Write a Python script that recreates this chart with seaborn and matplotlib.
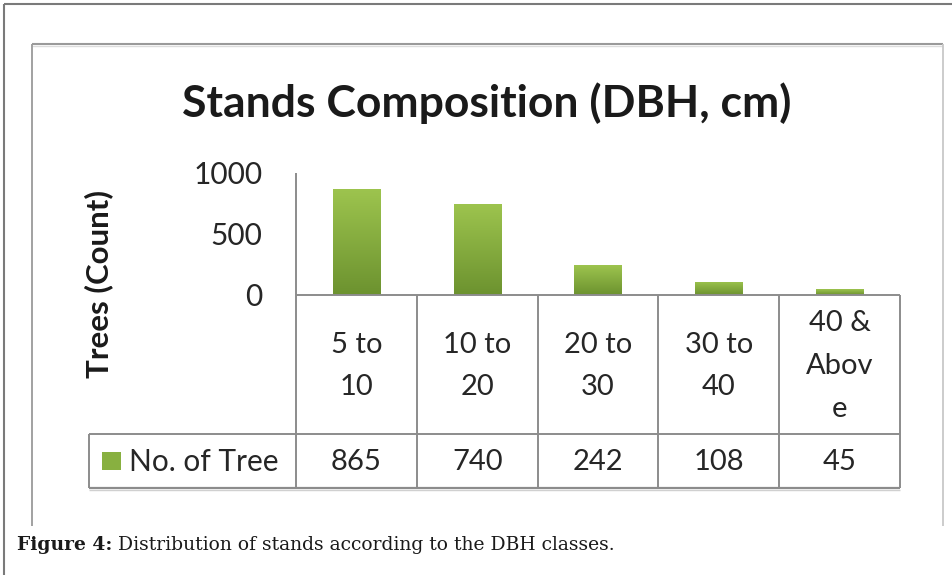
import numpy as np
import pandas as pd
import matplotlib
matplotlib.use("Agg")
import matplotlib.pyplot as plt
from matplotlib.lines import Line2D
from matplotlib.patches import Rectangle
from matplotlib.transforms import blended_transform_factory
from matplotlib.colors import LinearSegmentedColormap
import seaborn as sns

# ---- data ----
categories = ["5 to\n10", "10 to\n20", "20 to\n30", "30 to\n40", "40 &\nAbov\ne"]
values = [865, 740, 242, 108, 45]
series_name = "No. of Tree"
y_ticks = [0, 500, 1000]
title = "Stands Composition (DBH, cm)"
y_label = "Trees (Count)"
caption_bold = "Figure 4:"
caption_text = " Distribution of stands according to the DBH classes."

sns.set_theme(style="white")
plt.rcParams["font.family"] = ["Lato", "DejaVu Sans"]

W, H = 953, 575
fig = plt.figure(figsize=(W / 100, H / 100), dpi=100)
fig.patch.set_facecolor("white")


def fx(x):
    return x / W


def fy(y):
    return 1 - y / H


def hline(y, x0, x1, color="#8c8c8c", lw=1.4):
    fig.add_artist(Line2D([fx(x0), fx(x1)], [fy(y), fy(y)], color=color, lw=lw,
                          transform=fig.transFigure, solid_capstyle="butt"))


def vline(x, y0, y1, color="#8c8c8c", lw=1.4):
    fig.add_artist(Line2D([fx(x), fx(x)], [fy(y0), fy(y1)], color=color, lw=lw,
                          transform=fig.transFigure, solid_capstyle="butt"))


# outer frame (top + left)
hline(4, 4, W, color="#7a7a7a", lw=1.5)
vline(4, 4, H, color="#7a7a7a", lw=1.5)
# inner chart box
hline(44, 32, 943, color="#9a9a9a", lw=1.5)
hline(46, 32, 943, color="#dcdcdc", lw=1.0)
vline(32, 44, 526, color="#9a9a9a", lw=1.3)
vline(943, 44, 526, color="#c8c8c8", lw=1.3)

# plot axes
ax_left, ax_right = 296, 900
ax_top, ax_bottom = 172.5, 295
ax = fig.add_axes([fx(ax_left), fy(ax_bottom), fx(ax_right - ax_left), (ax_bottom - ax_top) / H])
df = pd.DataFrame({"cls": categories, "n": values})
sns.barplot(data=df, x="cls", y="n", order=categories, color="#86ad3d",
            width=0.39, ax=ax, saturation=1)
ax.set_xlim(-0.5, len(categories) - 0.5)
ax.set_ylim(0, 1000)
ax.set_xticks([])
ax.set_yticks(y_ticks)
ax.set_yticklabels([str(t) for t in y_ticks], fontsize=21.5, color="#262626")
ax.tick_params(axis="y", length=0, pad=24)
ax.set_xlabel("")
ax.set_ylabel("")
for s in ["top", "right", "left", "bottom"]:
    ax.spines[s].set_visible(False)
ax.patch.set_alpha(0)

# gradient fill on bars
cmap = LinearSegmentedColormap.from_list("g", ["#6c922f", "#9dc44e"])
grad = np.linspace(0, 1, 256).reshape(-1, 1)
for p in list(ax.patches):
    x0, y0 = p.get_x(), p.get_y()
    w, h = p.get_width(), p.get_height()
    p.set_edgecolor("none")
    im = ax.imshow(grad, cmap=cmap, origin="lower", aspect="auto",
                   extent=(x0, x0 + w, y0, y0 + h), zorder=p.get_zorder() + 0.1)
    im.set_clip_path(p)
ax.set_xlim(-0.5, len(categories) - 0.5)
ax.set_ylim(0, 1000)

# axis lines & table grid
grid_c = "#8c8c8c"
vline(ax_left, ax_top, 488, color=grid_c)
hline(ax_bottom, ax_left, ax_right, color=grid_c)
hline(434, 89, ax_right, color=grid_c)
hline(488, 89, ax_right, color=grid_c, lw=1.6)
hline(490, 89, ax_right, color="#d0d0d0", lw=1.0)
vline(89, 434, 488, color=grid_c)
col_w = (ax_right - ax_left) / len(categories)
for i in range(1, len(categories) + 1):
    vline(ax_left + i * col_w, ax_bottom, 488, color=grid_c)

# table text (x from the axes data scale, y in figure coords)
tr = blended_transform_factory(ax.transData, fig.transFigure)
for i, (c, v) in enumerate(zip(categories, values)):
    ax.text(i, fy(366), c, transform=tr, ha="center", va="center",
            fontsize=21, color="#262626", linespacing=1.8, clip_on=False)
    ax.text(i, fy(462), str(v), transform=tr, ha="center", va="center",
            fontsize=21, color="#262626", clip_on=False)

# legend key in table
fig.add_artist(Rectangle((fx(102), fy(470)), fx(19), 18 / H, transform=fig.transFigure,
                         facecolor="#88b040", edgecolor="none"))
fig.text(fx(129), fy(462), series_name, ha="left", va="center", fontsize=21.5, color="#262626")

# title and y label
fig.text(fx(487), fy(103), title, ha="center", va="center", fontsize=32,
         fontweight="bold", color="#1a1a1a")
fig.text(fx(99), fy(284), y_label, ha="center", va="center", rotation=90,
         fontsize=22.5, fontweight="bold", color="#1a1a1a")

# caption
serif = ["DejaVu Serif", "Liberation Serif"]
t1 = fig.text(fx(17), fy(545), caption_bold, ha="left", va="center", fontsize=13.5,
              fontweight="bold", family=serif, color="#1a1a1a")
fig.canvas.draw()
bb = t1.get_window_extent()
fig.text(bb.x1 / W, fy(545), caption_text, ha="left", va="center", fontsize=13.5,
         family=serif, color="#1a1a1a")

fig.savefig("out.png", dpi=100, facecolor="white")
